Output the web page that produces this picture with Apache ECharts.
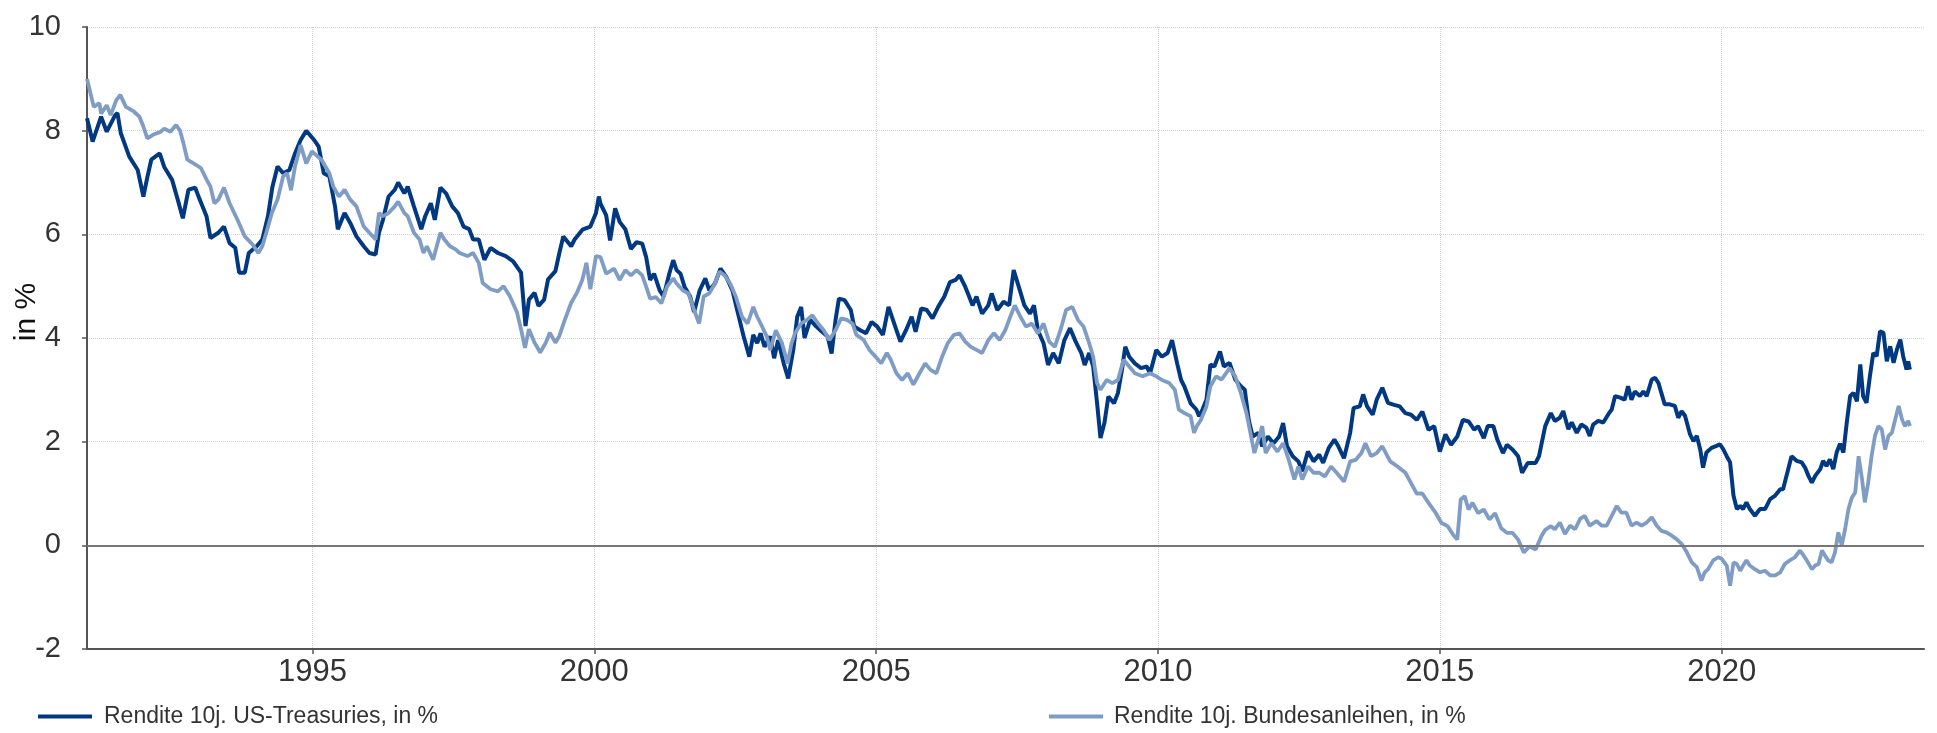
<!DOCTYPE html>
<html>
<head>
<meta charset="utf-8">
<title>Rendite 10j. US-Treasuries vs. Bundesanleihen</title>
<script src="https://cdn.jsdelivr.net/npm/echarts@6/dist/echarts.min.js"></script>
<style>
  html, body { margin: 0; padding: 0; background: #fff; }
  #chart { width: 1937px; height: 733px; }
</style>
</head>
<body>
<div id="chart"></div>
<script>
// Zeitpunkte als Dezimaljahre, Renditen in %
const usX = [1991.00,1991.10,1991.25,1991.35,1991.50,1991.54,1991.60,1991.75,1991.90,1992.00,1992.07,1992.14,1992.29,1992.37,1992.51,1992.61,1992.70,1992.80,1992.92,1993.00,1993.12,1993.19,1993.33,1993.43,1993.53,1993.63,1993.70,1993.80,1993.87,1994.01,1994.11,1994.21,1994.29,1994.38,1994.48,1994.59,1994.69,1994.79,1994.89,1995.03,1995.11,1995.20,1995.30,1995.40,1995.45,1995.57,1995.67,1995.78,1995.91,1996.01,1996.12,1996.18,1996.25,1996.35,1996.46,1996.52,1996.63,1996.69,1996.80,1996.93,1997.00,1997.10,1997.17,1997.27,1997.37,1997.48,1997.58,1997.68,1997.78,1997.85,1997.95,1998.05,1998.16,1998.29,1998.43,1998.56,1998.70,1998.78,1998.84,1998.94,1999.01,1999.11,1999.18,1999.31,1999.38,1999.45,1999.59,1999.65,1999.79,1999.93,2000.03,2000.08,
  2000.11,2000.21,2000.28,2000.37,2000.45,2000.55,2000.65,2000.75,2000.85,2000.92,2000.99,2001.06,2001.16,2001.23,2001.33,2001.40,2001.46,2001.53,2001.60,2001.70,2001.77,2001.87,2001.97,2002.04,2002.14,2002.24,2002.34,2002.45,2002.55,2002.65,2002.75,2002.82,2002.89,2002.95,2003.02,2003.12,2003.19,2003.26,2003.36,2003.44,2003.53,2003.60,2003.67,2003.73,2003.83,2003.94,2004.04,2004.14,2004.21,2004.28,2004.34,2004.44,2004.55,2004.61,2004.72,2004.82,2004.92,2005.02,2005.12,2005.22,2005.33,2005.43,2005.53,2005.63,2005.70,2005.80,2005.90,2006.00,2006.10,2006.21,2006.31,2006.41,2006.48,2006.58,2006.65,2006.71,2006.78,2006.88,2006.99,2007.05,2007.15,2007.26,2007.36,2007.44,2007.53,2007.63,2007.73,2007.80,2007.87,2007.97,2008.05,2008.14,2008.24,2008.34,2008.44,2008.54,2008.64,2008.70,2008.78,2008.85,2008.92,2008.98,2009.05,2009.12,2009.22,2009.29,2009.36,2009.42,2009.49,2009.59,2009.70,2009.80,2009.86,2009.97,2010.07,2010.17,2010.25,2010.34,2010.41,2010.47,2010.58,2010.68,
  2010.73,2010.79,2010.86,2010.93,2011.00,2011.10,2011.17,2011.27,2011.37,2011.47,2011.54,2011.61,2011.68,2011.78,2011.85,2011.95,2012.05,2012.15,2012.22,2012.29,2012.39,2012.49,2012.56,2012.66,2012.76,2012.86,2012.93,2013.03,2013.13,2013.20,2013.30,2013.41,2013.47,2013.58,2013.64,2013.71,2013.81,2013.88,2013.98,2014.08,2014.19,2014.29,2014.39,2014.49,2014.59,2014.69,2014.80,2014.90,2015.00,2015.10,2015.20,2015.31,2015.41,2015.51,2015.61,2015.68,2015.78,2015.85,2015.95,2016.02,2016.12,2016.19,2016.29,2016.39,2016.46,2016.56,2016.70,2016.76,2016.87,2016.97,
  2017.04,2017.13,2017.19,2017.28,2017.34,2017.43,2017.51,2017.60,2017.66,2017.72,2017.81,2017.90,2017.99,2018.05,2018.11,2018.20,2018.28,2018.34,2018.40,2018.46,2018.55,2018.61,2018.67,2018.76,2018.82,2018.88,2018.93,2018.99,2019.08,2019.17,2019.23,2019.29,2019.35,2019.44,2019.50,2019.56,2019.62,2019.67,2019.73,2019.82,2019.91,2019.97,2020.03,2020.09,2020.15,2020.21,2020.27,2020.33,2020.38,2020.44,2020.50,2020.59,2020.68,2020.77,2020.86,2020.95,2021.04,2021.09,2021.15,2021.24,2021.33,2021.42,2021.48,2021.54,2021.60,2021.66,2021.75,2021.80,2021.86,2021.92,2021.98,2022.04,2022.10,2022.16,2022.22,2022.28,2022.34,2022.40,2022.46,2022.51,2022.57,2022.63,2022.69,2022.75,2022.81,2022.87,2022.93,2022.99,2023.05,2023.11,2023.17,2023.22,2023.28,2023.31,2023.34];
const usY = [8.24,7.79,8.27,7.98,8.30,8.34,7.95,7.50,7.24,6.73,7.10,7.44,7.56,7.30,7.05,6.67,6.31,6.86,6.90,6.67,6.35,5.93,6.03,6.15,5.83,5.74,5.26,5.26,5.64,5.77,5.90,6.35,6.92,7.31,7.18,7.24,7.56,7.82,8.00,7.82,7.69,7.18,7.12,6.54,6.10,6.41,6.22,5.96,5.77,5.64,5.61,6.03,6.28,6.73,6.86,7.00,6.79,6.92,6.54,6.10,6.35,6.60,6.28,6.90,6.79,6.54,6.41,6.15,6.10,5.90,5.90,5.51,5.74,5.64,5.58,5.48,5.26,4.23,4.74,4.87,4.62,4.74,5.13,5.29,5.64,5.96,5.77,5.90,6.09,6.15,6.41,6.73,
  6.59,6.37,5.88,6.50,6.24,6.10,5.72,5.85,5.82,5.56,5.12,5.24,4.92,4.80,5.24,5.50,5.31,5.24,4.99,4.80,4.50,4.92,5.15,4.92,5.05,5.34,5.18,4.92,4.47,4.03,3.64,4.06,3.90,4.09,3.83,4.03,3.61,3.96,3.51,3.22,3.77,4.41,4.60,4.00,4.35,4.22,4.12,4.03,3.70,4.35,4.76,4.73,4.54,4.22,4.15,4.09,4.31,4.22,4.06,4.60,4.25,3.93,4.15,4.41,4.12,4.57,4.54,4.38,4.60,4.80,5.08,5.12,5.21,4.99,4.80,4.63,4.80,4.47,4.63,4.86,4.54,4.70,4.63,5.31,4.99,4.63,4.47,4.63,4.15,3.90,3.48,3.71,3.51,3.96,4.19,3.93,3.71,3.48,3.71,3.45,2.74,2.07,2.36,2.87,2.74,2.94,3.38,3.83,3.64,3.51,3.42,3.45,3.32,3.77,3.64,3.71,3.96,3.51,3.19,3.06,2.74,2.62,
  2.49,2.62,2.81,3.49,3.45,3.74,3.45,3.52,3.20,3.07,3.00,2.42,2.10,2.17,1.91,2.10,1.97,2.10,2.36,1.91,1.72,1.62,1.43,1.81,1.62,1.75,1.59,1.88,2.04,1.91,1.68,2.17,2.65,2.68,2.91,2.68,2.52,2.81,3.04,2.75,2.71,2.68,2.55,2.52,2.42,2.58,2.23,2.30,1.81,2.14,1.94,2.10,2.42,2.39,2.23,2.30,2.07,2.30,2.30,2.04,1.78,1.94,1.85,1.72,1.40,1.59,1.59,1.72,2.30,2.55,
  2.40,2.46,2.59,2.24,2.37,2.17,2.33,2.27,2.11,2.33,2.40,2.37,2.53,2.62,2.88,2.85,2.81,3.07,2.81,2.97,2.88,2.97,2.88,3.20,3.23,3.13,2.94,2.72,2.72,2.69,2.46,2.59,2.50,2.14,2.01,2.11,1.85,1.50,1.79,1.88,1.92,1.95,1.85,1.72,1.60,0.96,0.70,0.76,0.70,0.83,0.70,0.57,0.70,0.70,0.89,0.96,1.08,1.08,1.34,1.72,1.63,1.60,1.50,1.34,1.21,1.34,1.47,1.63,1.53,1.66,1.47,1.79,1.96,1.79,2.37,2.88,2.94,2.78,3.49,2.88,2.75,3.26,3.71,3.65,4.13,4.10,3.55,3.84,3.52,3.78,3.97,3.65,3.39,3.55,3.39];

const deX = [1991.00,1991.12,1991.22,1991.25,1991.35,1991.42,1991.52,1991.59,1991.69,1991.83,1991.93,1992.00,1992.07,1992.17,1992.31,1992.37,1992.48,1992.58,1992.65,1992.71,1992.78,1992.92,1993.02,1993.12,1993.19,1993.26,1993.33,1993.43,1993.53,1993.67,1993.80,1993.94,1994.04,1994.11,1994.18,1994.28,1994.38,1994.48,1994.55,1994.62,1994.69,1994.79,1994.89,1994.99,1995.16,1995.30,1995.37,1995.47,1995.57,1995.67,1995.78,1995.91,1996.01,1996.12,1996.18,1996.25,1996.35,1996.46,1996.52,1996.63,1996.69,1996.80,1996.90,1996.97,1997.03,1997.14,1997.27,1997.34,1997.44,1997.54,1997.61,1997.75,1997.85,1997.95,1998.02,1998.16,1998.29,1998.39,1998.50,1998.63,1998.70,1998.77,1998.84,1998.94,1999.04,1999.14,1999.21,1999.31,1999.38,1999.48,1999.59,1999.69,1999.79,1999.86,1999.93,2000.03,
  2000.11,2000.21,2000.35,2000.45,2000.55,2000.65,2000.75,2000.85,2000.92,2000.99,2001.09,2001.19,2001.29,2001.40,2001.46,2001.57,2001.67,2001.77,2001.86,2001.94,2002.04,2002.14,2002.22,2002.31,2002.41,2002.51,2002.62,2002.72,2002.82,2002.89,2002.95,2003.06,2003.12,2003.22,2003.33,2003.43,2003.50,2003.56,2003.67,2003.77,2003.87,2003.97,2004.07,2004.17,2004.28,2004.38,2004.48,2004.58,2004.65,2004.78,2004.88,2004.99,2005.09,2005.19,2005.26,2005.36,2005.46,2005.56,2005.66,2005.77,2005.87,2005.97,2006.07,2006.17,2006.27,2006.38,2006.48,2006.58,2006.68,2006.78,2006.88,2006.99,2007.09,2007.19,2007.29,2007.39,2007.46,2007.56,2007.66,2007.76,2007.87,2007.97,2008.07,2008.17,2008.27,2008.37,2008.48,2008.58,2008.68,2008.78,2008.85,2008.92,2008.98,2009.09,2009.19,2009.29,2009.39,2009.49,2009.59,2009.73,2009.86,2009.97,2010.07,2010.20,2010.30,2010.37,2010.47,2010.58,2010.64,
  2010.69,2010.76,2010.86,2010.93,2011.03,2011.13,2011.27,2011.37,2011.47,2011.57,2011.64,2011.71,2011.78,2011.85,2011.91,2012.01,2012.12,2012.22,2012.32,2012.42,2012.49,2012.56,2012.66,2012.76,2012.86,2012.96,2013.07,2013.17,2013.30,2013.41,2013.51,2013.61,2013.68,2013.78,2013.88,2013.98,2014.12,2014.25,2014.39,2014.49,2014.59,2014.69,2014.80,2014.93,2015.03,2015.14,2015.24,2015.31,2015.37,2015.44,2015.51,2015.58,2015.68,2015.78,2015.88,2015.98,2016.09,2016.19,2016.29,2016.39,2016.49,2016.59,2016.70,2016.80,2016.87,2016.97,
  2017.04,2017.13,2017.22,2017.31,2017.40,2017.49,2017.57,2017.66,2017.78,2017.87,2017.96,2018.05,2018.14,2018.22,2018.31,2018.40,2018.49,2018.58,2018.67,2018.76,2018.85,2018.93,2019.02,2019.11,2019.20,2019.29,2019.38,2019.47,2019.56,2019.64,2019.70,2019.76,2019.85,2019.94,2020.00,2020.09,2020.15,2020.21,2020.27,2020.33,2020.38,2020.44,2020.50,2020.59,2020.68,2020.77,2020.86,2020.95,2021.04,2021.12,2021.21,2021.30,2021.39,2021.45,2021.51,2021.60,2021.66,2021.72,2021.78,2021.83,2021.89,2021.95,2022.01,2022.07,2022.13,2022.19,2022.25,2022.31,2022.37,2022.43,2022.49,2022.54,2022.60,2022.66,2022.72,2022.78,2022.84,2022.90,2022.96,2023.02,2023.08,2023.14,2023.20,2023.25,2023.31,2023.34];
const deY = [9.00,8.46,8.53,8.33,8.49,8.30,8.59,8.69,8.46,8.37,8.27,8.08,7.85,7.92,7.98,8.04,7.98,8.11,8.00,7.76,7.44,7.35,7.28,7.06,6.92,6.60,6.67,6.90,6.60,6.28,5.96,5.80,5.64,5.77,6.03,6.41,6.67,7.12,7.18,6.85,7.31,7.72,7.37,7.60,7.44,7.18,6.92,6.73,6.86,6.67,6.54,6.15,6.03,5.90,6.41,6.35,6.41,6.54,6.63,6.41,6.35,6.03,5.90,5.64,5.77,5.51,6.03,5.90,5.77,5.71,5.64,5.58,5.64,5.45,5.06,4.94,4.90,5.00,4.81,4.49,4.17,3.81,4.17,3.91,3.72,3.91,4.10,3.91,4.04,4.36,4.68,4.87,5.13,5.45,4.94,5.58,
  5.56,5.24,5.34,5.12,5.31,5.21,5.31,5.21,4.99,4.76,4.79,4.67,4.99,5.15,5.05,4.92,4.86,4.54,4.28,4.80,4.86,5.05,5.28,5.21,5.05,4.80,4.41,4.28,4.60,4.41,4.28,4.03,3.77,4.15,3.90,3.51,3.90,4.09,4.28,4.35,4.44,4.28,4.15,3.96,4.15,4.38,4.35,4.28,4.06,3.96,3.77,3.64,3.51,3.71,3.58,3.32,3.19,3.32,3.10,3.32,3.51,3.38,3.32,3.64,3.90,4.06,4.09,3.93,3.83,3.77,3.71,3.96,4.09,3.96,4.15,4.44,4.63,4.41,4.22,4.28,4.09,4.28,3.93,3.83,4.15,4.54,4.60,4.35,4.22,3.90,3.64,3.13,3.00,3.19,3.13,3.19,3.58,3.45,3.32,3.26,3.32,3.26,3.19,3.13,3.00,2.62,2.55,2.49,2.17,
  2.30,2.42,2.68,3.07,3.26,3.20,3.42,3.26,2.94,2.55,2.17,1.78,2.04,2.30,1.78,1.97,1.81,1.97,1.65,1.27,1.52,1.27,1.52,1.40,1.40,1.33,1.52,1.40,1.23,1.62,1.65,1.78,1.97,1.72,1.78,1.91,1.62,1.52,1.40,1.20,1.00,1.00,0.82,0.62,0.43,0.37,0.20,0.11,0.88,0.95,0.69,0.82,0.62,0.69,0.50,0.62,0.33,0.24,0.24,0.11,-0.14,-0.02,-0.08,0.17,0.30,0.37,
  0.31,0.44,0.22,0.38,0.31,0.51,0.57,0.38,0.47,0.38,0.38,0.57,0.76,0.63,0.63,0.38,0.44,0.38,0.44,0.54,0.38,0.28,0.25,0.19,0.12,0.03,-0.13,-0.33,-0.42,-0.68,-0.52,-0.46,-0.29,-0.23,-0.26,-0.39,-0.78,-0.33,-0.36,-0.49,-0.39,-0.29,-0.39,-0.46,-0.52,-0.49,-0.58,-0.58,-0.52,-0.36,-0.29,-0.23,-0.10,-0.19,-0.29,-0.46,-0.39,-0.36,-0.10,-0.19,-0.29,-0.33,-0.14,0.25,0.00,0.31,0.70,0.92,1.02,1.72,1.28,0.83,1.21,1.72,2.11,2.30,2.24,1.85,2.11,2.17,2.43,2.69,2.43,2.30,2.40,2.30];

const yearTicks = [1995, 2000, 2005, 2010, 2015, 2020];
const seriesNames = ['Rendite 10j. US-Treasuries, in %', 'Rendite 10j. Bundesanleihen, in %'];

const FONT = '"Liberation Sans", Arial, sans-serif';
const DARK = '#003882';
const LIGHT = '#7f9cc4';

function zip(xs, ys) {
  return xs.map((x, i) => [x, ys[i]]);
}

const chart = echarts.init(document.getElementById('chart'));

const option = {
  animation: false,
  backgroundColor: '#fff',
  grid: { left: 87, right: 13, top: 27, bottom: 84 },
  legend: [
    {
      data: [seriesNames[0]], left: 38, top: 705, padding: 0,
      icon: 'rect', itemWidth: 54, itemHeight: 4,
      textStyle: { fontFamily: FONT, fontSize: 23, color: '#333', padding: [0, 0, 0, 7] }
    },
    {
      data: [seriesNames[1]], left: 1049, top: 705, padding: 0,
      icon: 'rect', itemWidth: 54, itemHeight: 4,
      textStyle: { fontFamily: FONT, fontSize: 23, color: '#333', padding: [0, 0, 0, 6] }
    }
  ],
  xAxis: {
    type: 'value',
    min: 1991,
    max: 2023.59,
    axisLine: { show: true, onZero: false, lineStyle: { color: '#555', width: 2 } },
    axisTick: { show: true, length: 5, customValues: yearTicks, lineStyle: { color: '#555', width: 1.5 } },
    axisLabel: {
      customValues: yearTicks, margin: 8,
      fontFamily: FONT, fontSize: 31, color: '#333',
      formatter: v => String(v)
    },
    splitLine: { show: true, lineStyle: { color: '#d2d2d2', type: 'dotted', width: 1 } }
  },
  yAxis: {
    type: 'value',
    min: -2,
    max: 10,
    interval: 2,
    axisLine: { show: true, lineStyle: { color: '#555', width: 2 } },
    axisTick: { show: true, length: 5, lineStyle: { color: '#555', width: 1.5 } },
    axisLabel: { margin: 26, fontFamily: FONT, fontSize: 29, color: '#333' },
    splitLine: { show: true, lineStyle: { color: '#d2d2d2', type: 'dotted', width: 1 } }
  },
  graphic: [
    {
      type: 'text',
      x: 12, y: 312,
      rotation: Math.PI / 2,
      style: {
        text: 'in %', font: '30px "Liberation Sans", Arial, sans-serif',
        fill: '#111', align: 'center', verticalAlign: 'top'
      }
    }
  ],
  series: [
    {
      name: seriesNames[0],
      type: 'line',
      data: zip(usX, usY),
      showSymbol: false,
      symbol: 'none',
      color: DARK,
      lineStyle: { color: DARK, width: 4 },
      z: 3,
      markLine: {
        silent: true,
        symbol: 'none',
        label: { show: false },
        lineStyle: { color: '#777', width: 2, type: 'solid' },
        data: [{ yAxis: 0 }]
      }
    },
    {
      name: seriesNames[1],
      type: 'line',
      data: zip(deX, deY),
      showSymbol: false,
      symbol: 'none',
      color: LIGHT,
      lineStyle: { color: LIGHT, width: 3.8 },
      z: 4
    }
  ]
};

chart.setOption(option);
</script>
</body>
</html>
